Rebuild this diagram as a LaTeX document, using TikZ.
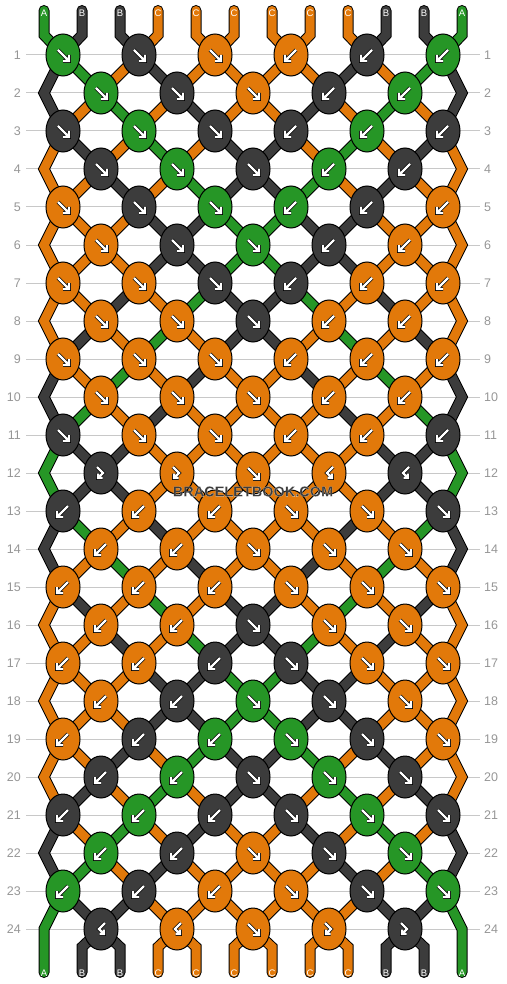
\documentclass[tikz,border=0pt]{standalone}
\usepackage{fontspec}
\setsansfont{Liberation Sans}
\usetikzlibrary{shapes.geometric}

\definecolor{cA}{RGB}{38,150,38}
\definecolor{cB}{RGB}{60,60,60}
\definecolor{cC}{RGB}{226,121,10}
\definecolor{rulegray}{RGB}{200,200,200}
\definecolor{numgray}{RGB}{150,150,150}

\newcommand\haloed[1]{\special{pdf:code 2 Tr 0.045 w 1 1 1 RG}#1\special{pdf:code 0 Tr}}

\tikzset{
  strand/.style={draw=#1, line width=9pt, preaction={draw=black, line width=11pt}},
  tipstrand/.style={draw=#1, line width=9pt, line cap=round, preaction={draw=black, line width=11pt, line cap=round}},
  knot/.style={ellipse, draw=black, line width=1pt, fill=#1, minimum width=34pt, minimum height=42pt, inner sep=0pt},
  glyph/.style={draw=white, line width=2.2pt, preaction={draw=black, line width=3.8pt}},
  rowline/.style={draw=rulegray, line width=1pt},
  rownum/.style={text=numgray, font=\sffamily\fontsize{12.5}{14}\selectfont, inner sep=0pt},
  tiplabel/.style={text=white, font=\sffamily\fontsize{9.5}{11}\selectfont, inner sep=0pt},
  watermark/.style={font=\sffamily\bfseries\fontsize{14.5}{16}\selectfont, inner sep=0pt},
  arrse/.pic={\draw[glyph] (-5,-5) -- (6,6) (6,0) -- (6,6) -- (0,6);},
  arrsw/.pic={\draw[glyph] (5,-5) -- (-6,6) (-6,0) -- (-6,6) -- (0,6);},
  arrfb/.pic={\draw[glyph] (-4,-6) -- (2,0) -- (-3,5) (-3,0.5) -- (-3,5) -- (1.5,5);},
  arrbf/.pic={\draw[glyph] (4,-6) -- (-2,0) -- (3,5) (3,0.5) -- (3,5) -- (-1.5,5);}
}

\begin{document}
\begin{tikzpicture}[x=1pt, y=-1pt]
\useasboundingbox (0,0) rectangle (506,984);

\foreach \r in {1,...,24} {
  \pgfmathsetmacro\yy{55+38*(\r-1)}
  \draw[rowline] (26,\yy) -- (480,\yy);
  \node[rownum, anchor=east] (nl-\r) at (21,\yy) {\r};
  \node[rownum, anchor=west] (nr-\r) at (484,\yy) {\r};
  \foreach \i in {0,...,11} {
    \pgfmathtruncatemacro\k{\i-mod(\i+\r+1,2)}
    \pgfmathsetmacro\xx{max(44,min(462,63+38*\k))}
    \coordinate (p-\r-\i) at (\xx,\yy);
  }
}

\foreach \c [count=\i from 0] in {A,B,B,C,C,C,C,C,C,B,B,A} {
  \coordinate (ts-\i) at (44+38*\i,10.5);
  \coordinate (tm-\i) at (44+38*\i,35);
  \coordinate (bm-\i) at (44+38*\i,947);
  \coordinate (be-\i) at (44+38*\i,972.5);
  \draw[tipstrand=c\c] (ts-\i) -- (tm-\i) -- (p-1-\i);
  \ifnum\i=0
    \draw[tipstrand=c\c] (p-23-\i) -- (p-24-\i) -- (be-\i);
  \else\ifnum\i=11
    \draw[tipstrand=c\c] (p-23-\i) -- (p-24-\i) -- (be-\i);
  \else
    \draw[tipstrand=c\c] (p-24-\i) -- (bm-\i) -- (be-\i);
  \fi\fi
  \node[tiplabel] (top-\i) at (44+38*\i,13.5) {\c};
  \node[tiplabel] (bot-\i) at (44+38*\i,973) {\c};
}

\foreach \r/\row in {
  1/{B,A,C,B,C,C,C,C,B,C,A,B}, 2/{B,C,A,C,B,C,C,B,C,A,C,B},
  3/{C,B,C,A,C,B,B,C,A,C,B,C}, 4/{C,C,B,C,A,B,B,A,C,B,C,C},
  5/{C,C,C,B,B,A,A,B,B,C,C,C}, 6/{C,C,C,B,B,A,A,B,B,C,C,C},
  7/{C,C,B,C,A,B,B,A,C,B,C,C}, 8/{C,B,C,A,C,B,B,C,A,C,B,C},
  9/{B,C,A,C,B,C,C,B,C,A,C,B}, 10/{B,A,C,B,C,C,C,C,B,C,A,B},
  11/{A,B,B,C,C,C,C,C,C,B,B,A}, 12/{A,B,B,C,C,C,C,C,C,B,B,A},
  13/{B,A,C,B,C,C,C,C,B,C,A,B}, 14/{B,C,A,C,B,C,C,B,C,A,C,B},
  15/{C,B,C,A,C,B,B,C,A,C,B,C}, 16/{C,C,B,C,A,B,B,A,C,B,C,C},
  17/{C,C,C,B,B,A,A,B,B,C,C,C}, 18/{C,C,C,B,B,A,A,B,B,C,C,C},
  19/{C,C,B,C,A,B,B,A,C,B,C,C}, 20/{C,B,C,A,C,B,B,C,A,C,B,C},
  21/{B,C,A,C,B,C,C,B,C,A,C,B}, 22/{B,A,C,B,C,C,C,C,B,C,A,B},
  23/{A,B,B,C,C,C,C,C,C,B,B,A}} {
  \foreach \c [count=\i from 0] in \row {
    \pgfmathtruncatemacro\rn{\r+1}
    \pgfmathtruncatemacro\rp{\r-1}
    \pgfmathtruncatemacro\edge{(\i==0)||(\i==11)}
    \ifnum\edge=1
      \ifodd\r\else
        \draw[strand=c\c] (p-\rp-\i) -- (p-\r-\i) -- (p-\rn-\i);
      \fi
    \else
      \draw[strand=c\c] (p-\r-\i) -- (p-\rn-\i);
    \fi
  }
}

\foreach \r/\row in {
  1/{A/se,B/se,C/se,C/sw,B/sw,A/sw}, 2/{A/se,B/se,C/se,B/sw,A/sw},
  3/{B/se,A/se,B/se,B/sw,A/sw,B/sw}, 4/{B/se,A/se,B/se,A/sw,B/sw},
  5/{C/se,B/se,A/se,A/sw,B/sw,C/sw}, 6/{C/se,B/se,A/se,B/sw,C/sw},
  7/{C/se,C/se,B/se,B/sw,C/sw,C/sw}, 8/{C/se,C/se,B/se,C/sw,C/sw},
  9/{C/se,C/se,C/se,C/sw,C/sw,C/sw}, 10/{C/se,C/se,C/se,C/sw,C/sw},
  11/{B/se,C/se,C/se,C/sw,C/sw,B/sw}, 12/{B/fb,C/fb,C/se,C/bf,B/bf},
  13/{B/sw,C/sw,C/sw,C/se,C/se,B/se}, 14/{C/sw,C/sw,C/se,C/se,C/se},
  15/{C/sw,C/sw,C/sw,C/se,C/se,C/se}, 16/{C/sw,C/sw,B/se,C/se,C/se},
  17/{C/sw,C/sw,B/sw,B/se,C/se,C/se}, 18/{C/sw,B/sw,A/se,B/se,C/se},
  19/{C/sw,B/sw,A/sw,A/se,B/se,C/se}, 20/{B/sw,A/sw,B/se,A/se,B/se},
  21/{B/sw,A/sw,B/sw,B/se,A/se,B/se}, 22/{A/sw,B/sw,C/se,B/se,A/se},
  23/{A/sw,B/sw,C/sw,C/se,B/se,A/se}, 24/{B/bf,C/bf,C/se,C/fb,B/fb}} {
  \foreach \c/\d [count=\j from 0] in \row {
    \pgfmathtruncatemacro\k{2*\j+1-mod(\r,2)}
    \node[knot=c\c] (k-\r-\k) at (p-\r-\k) {};
    \pic at (k-\r-\k) {arr\d};
  }
}

\node[watermark, text=cB] (mark) at (253,491.5) {\haloed{BRACELETBOOK.COM}};
\end{tikzpicture}
\end{document}
